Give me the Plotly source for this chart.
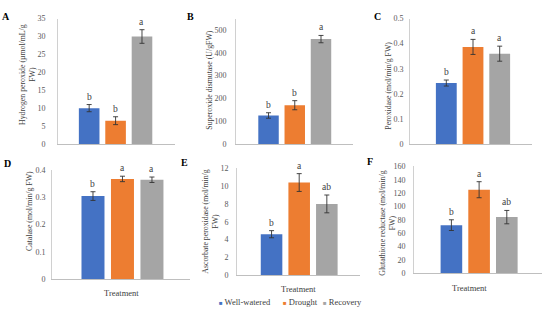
import plotly.graph_objects as go

series = ["Well-watered", "Drought", "Recovery"]
colors = ["#4472C4", "#ED7D31", "#A5A5A5"]

panels = ["A", "B", "C", "D", "E", "F"]
titles = [
    "Hydrogen peroxide (µmol/mL/g<br>FW)",
    "Superoxide dismutase (U/gFW)",
    "Peroxidase (mol/min/g FW)",
    "Catalase (mol/min/g FW)",
    "Ascorbate peroxidase (mol/min/g<br>FW)",
    "Glutathione reductase (mol/min/g<br>FW)",
]
values = [
    [10.0, 6.5, 30.0],
    [125, 170, 460],
    [0.243, 0.387, 0.360],
    [0.305, 0.368, 0.365],
    [4.6, 10.4, 8.0],
    [72, 125, 84],
]
errors = [
    [1.0, 1.1, 1.9],
    [12, 20, 16],
    [0.012, 0.030, 0.030],
    [0.016, 0.010, 0.010],
    [0.4, 1.0, 1.0],
    [8, 12, 10],
]
letters = [
    ["b", "b", "a"],
    ["b", "b", "a"],
    ["b", "a", "a"],
    ["b", "a", "a"],
    ["b", "a", "ab"],
    ["b", "a", "ab"],
]
y_ranges = [[0, 35], [0, 550], [0, 0.5], [0, 0.4], [0, 12], [0, 160]]
y_dticks = [5, 100, 0.1, 0.1, 2, 20]
y_tickfmt = ["", "", ".1~f", ".1~f", "", ""]
x_label = "Treatment"

W, H = 550, 322
# layout in pixels (left, right, top, bottom) of each plot area
boxes = [
    (58, 175, 15, 144),
    (236, 353, 15, 144),
    (410, 532, 15, 144),
    (52, 190, 171, 283),
    (237, 360, 169, 279),
    (414, 542, 167, 277),
]
x_ranges = [
    [-1.18, 3.25], [-1.24, 3.22], [-1.36, 3.21],
    [-1.39, 3.29], [-1.25, 3.20], [-1.35, 3.27],
]
standoffs = [10, 7, 4, 4, 6, 6]
title_pos = [(28, 73), (210, 78), (389, 84), (29, 213), (211, 224), (388, 226)]
letter_pos = [(6, 13), (190, 13), (377, 13), (7, 164), (184, 163), (370, 162)]
xlabel_pos = [(121, 297), (299, 293), (469, 292)]

FONT = "Liberation Serif, Times New Roman, serif"
fig = go.Figure()
annotations = []

for p in range(6):
    ax = "" if p == 0 else str(p + 1)
    for j in range(3):
        fig.add_trace(go.Bar(
            x=[j], y=[values[p][j]], width=0.78,
            marker=dict(color=colors[j], line=dict(width=0)),
            error_y=dict(type="data", array=[errors[p][j]], visible=True,
                         color="#333333", thickness=0.9, width=2.5),
            name=series[j], legendgroup=series[j], showlegend=False,
            xaxis="x" + ax, yaxis="y" + ax,
        ))
        annotations.append(dict(
            x=j, y=values[p][j] + errors[p][j], xref="x" + ax, yref="y" + ax,
            text=letters[p][j], showarrow=False, yanchor="bottom", yshift=1,
            font=dict(family=FONT, size=9.5, color="#404040"),
        ))
    l, r, t, b = boxes[p]
    fig.update_layout(**{
        "xaxis" + ax: dict(
            domain=[l / W, r / W], range=x_ranges[p], anchor="y" + ax,
            showticklabels=False, ticks="", showgrid=False, zeroline=False,
            showline=True, linecolor="#BFBFBF", linewidth=1,
        ),
        "yaxis" + ax: dict(
            domain=[1 - b / H, 1 - t / H], range=y_ranges[p], anchor="x" + ax,
            dtick=y_dticks[p], tick0=0, tickformat=y_tickfmt[p],
            ticks="", showgrid=False, zeroline=False,
            showline=True, linecolor="#D0D0D0", linewidth=1,
            ticklabelstandoff=standoffs[p],
            tickfont=dict(family=FONT, size=8, color="#595959"),
        ),
    })
    tx, ty = title_pos[p]
    annotations.append(dict(
        x=tx / W, y=1 - ty / H, xref="paper", yref="paper", text=titles[p],
        textangle=-90, showarrow=False, xanchor="center", yanchor="middle",
        font=dict(family=FONT, size=7.8, color="#404040"),
    ))
    lx, ly = letter_pos[p]
    annotations.append(dict(
        x=lx / W, y=1 - ly / H, xref="paper", yref="paper",
        text="<b>" + panels[p] + "</b>", showarrow=False,
        xanchor="center", yanchor="middle",
        font=dict(family=FONT, size=10, color="#000000"),
    ))

for (xx, yy) in xlabel_pos:
    annotations.append(dict(
        x=xx / W, y=1 - yy / H, xref="paper", yref="paper", text=x_label,
        showarrow=False, xanchor="center", yanchor="middle",
        font=dict(family=FONT, size=8.5, color="#404040"),
    ))

# legend row
legend_x = [217, 281, 321]
for j in range(3):
    annotations.append(dict(
        x=legend_x[j] / W, y=1 - 307 / H, xref="paper", yref="paper",
        text='<span style="color:%s;font-size:6px">■</span> %s' % (colors[j], series[j]),
        showarrow=False, xanchor="left", yanchor="middle",
        font=dict(family=FONT, size=8.5, color="#404040"),
    ))

fig.update_layout(
    width=W, height=H, margin=dict(l=0, r=0, t=0, b=0),
    paper_bgcolor="white", plot_bgcolor="white",
    showlegend=False, annotations=annotations,
)
fig.write_html(
    "out.html",
    config={"displayModeBar": False},
    post_script="document.body.style.margin='0';document.body.style.padding='0';",
)
